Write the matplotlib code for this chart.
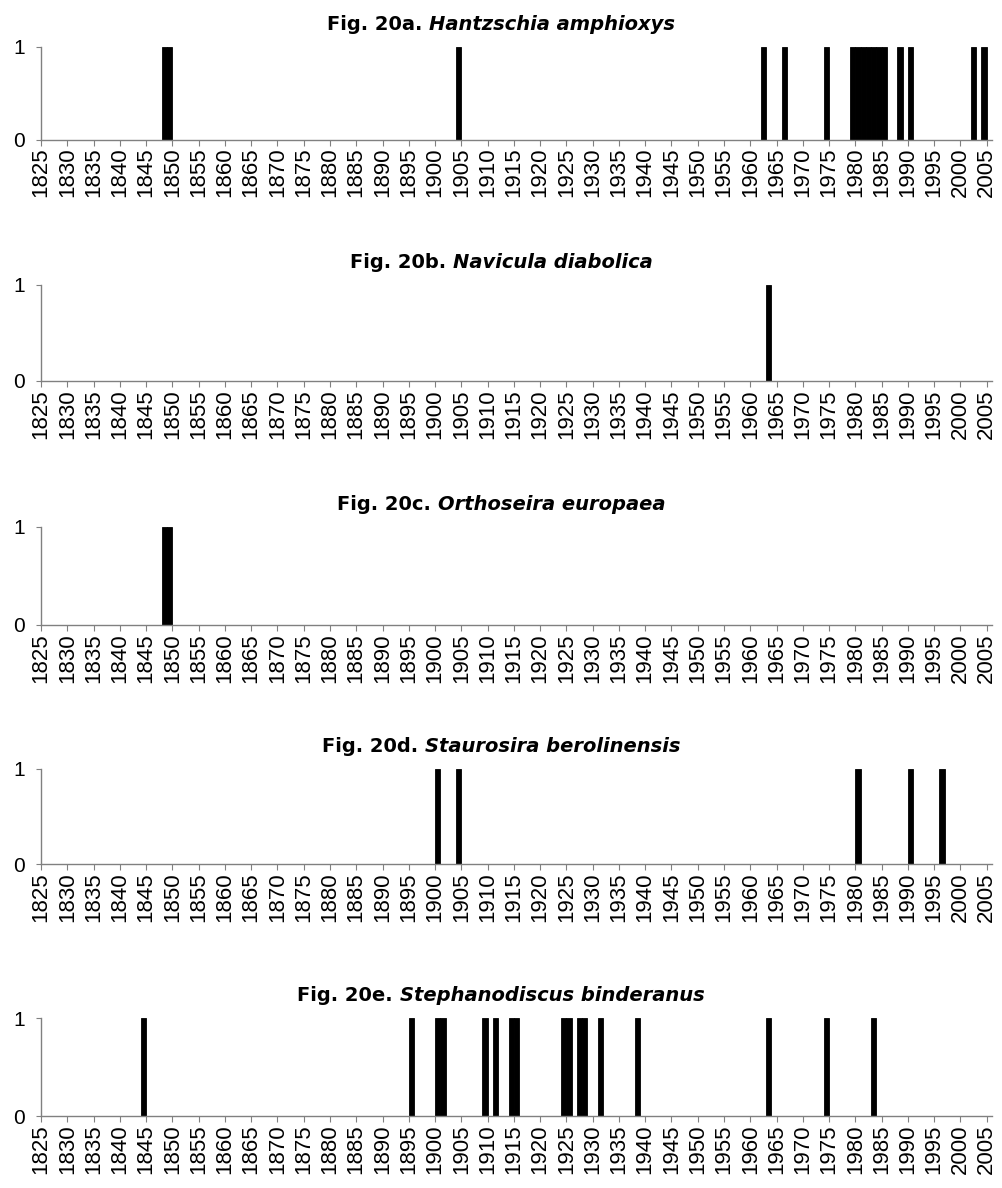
import matplotlib.pyplot as plt

# years in which each species was recorded (presence = 1)
years_a = [1848, 1849, 1904, 1962, 1966, 1974, 1979, 1980, 1981, 1982,
           1983, 1984, 1985, 1988, 1990, 2002, 2004]
years_b = [1963]
years_c = [1848, 1849]
years_d = [1900, 1904, 1980, 1990, 1996]
years_e = [1844, 1895, 1900, 1901, 1909, 1911, 1914, 1915, 1924, 1925,
           1927, 1928, 1931, 1938, 1963, 1974, 1983]

fig_numbers = ["Fig. 20a.", "Fig. 20b.", "Fig. 20c.", "Fig. 20d.", "Fig. 20e."]
species = ["Hantzschia amphioxys", "Navicula diabolica", "Orthoseira europaea",
           "Staurosira berolinensis", "Stephanodiscus binderanus"]
all_years = [years_a, years_b, years_c, years_d, years_e]

first_year = 1825
last_year = 2005
tick_years = list(range(first_year, last_year + 1, 5))

W, H = 1002.0, 1188.0
# (top, bottom) of each plot area in pixels
boxes = [(47, 139.5), (285, 381), (527, 625), (769, 864), (1018, 1116)]
left_px, right_px = 41, 992

grey = '#808080'

fig = plt.figure(figsize=(W / 100, H / 100), dpi=100)

titles = []
for num, name, years, (top, bottom) in zip(fig_numbers, species, all_years, boxes):
    ax = fig.add_axes([left_px / W, 1 - bottom / H,
                       (right_px - left_px) / W, (bottom - top) / H])
    ax.bar(years, [1] * len(years), width=1, align='edge',
           color='black', edgecolor='black', linewidth=0.6)
    ax.set_xlim(first_year, last_year + 1)
    ax.set_ylim(0, 1)

    ax.set_xticks(tick_years)
    ax.set_xticklabels([str(y) for y in tick_years], rotation=90,
                       fontsize=16, family='Liberation Sans')
    ax.set_yticks([0, 1])
    ax.set_yticklabels(['0', '1'], fontsize=15, family='Liberation Sans')

    for s in ['top', 'right']:
        ax.spines[s].set_visible(False)
    for s in ['left', 'bottom']:
        ax.spines[s].set_color(grey)
        ax.spines[s].set_linewidth(1.0)

    ax.tick_params(axis='x', length=4.5, width=0.8, color=grey, pad=1.5)
    ax.tick_params(axis='y', length=3.6, width=0.8, color=grey, pad=8)

    # title: "Fig. 20x." bold, species bold italic, centred on the figure
    y = 1 - (top - 17) / H
    t1 = fig.text(0, y, num, fontsize=14, fontweight='bold',
                  family='DejaVu Sans', va='baseline', ha='left')
    t2 = fig.text(0, y, name, fontsize=14, fontweight='bold',
                  style='italic', family='DejaVu Sans', va='baseline', ha='left')
    titles.append((t1, t2))

renderer = fig.canvas.get_renderer()
gap = 7 / W
for t1, t2 in titles:
    w1 = t1.get_window_extent(renderer).width / W
    w2 = t2.get_window_extent(renderer).width / W
    x0 = 0.5 - (w1 + gap + w2) / 2
    t1.set_x(x0)
    t2.set_x(x0 + w1 + gap)

plt.savefig('out.png', dpi=100)
